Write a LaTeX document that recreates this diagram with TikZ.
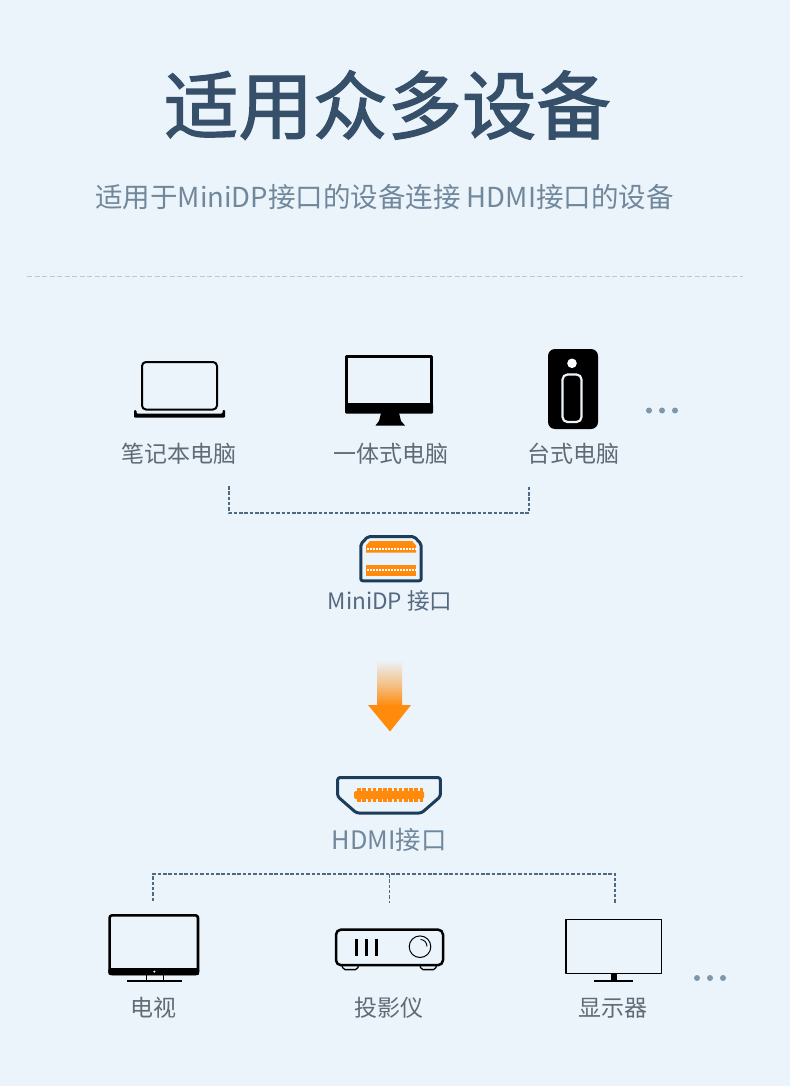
\documentclass[tikz,border=0pt]{standalone}
\usepackage{fontspec}
\setmainfont{Noto Sans CJK SC}
\newfontfamily\titlefont[FakeBold=1.6]{Noto Sans CJK SC}
\definecolor{bgc}{HTML}{EBF3FB}
\definecolor{titlec}{HTML}{37506A}
\definecolor{subc}{HTML}{71889C}
\definecolor{labelc}{HTML}{5F6B75}
\definecolor{navyc}{HTML}{1C3D5A}
\definecolor{orangec}{HTML}{FF8A0C}
\definecolor{dotc}{HTML}{7F97AA}
\definecolor{bracketc}{HTML}{4F6A80}
\definecolor{rulec}{HTML}{BCC6CC}
\tikzset{
  txt/.style={inner sep=0pt,anchor=center},
  devlabel/.style={txt,text=labelc,font=\fontsize{23}{26}\selectfont},
  bracket/.style={draw=bracketc,line width=1.2pt,dash pattern=on 3.5pt off 1.8pt},
  icon/.style={draw=black,line join=round},
  solidblack/.style={fill=black,draw=none},
  portline/.style={draw=navyc,line width=3pt,line join=round},
  ellip/.style={fill=dotc,draw=none},
}
\begin{document}
\begin{tikzpicture}[x=1pt,y=-1pt]
\useasboundingbox (0,0) rectangle (790,1086);
\fill[bgc] (0,0) rectangle (790,1086);
% heading
\node[txt,text=titlec,font=\fontsize{74.5}{80}\titlefont] (title) at (387.5,105) {适用众多设备};
\node[txt,text=subc,font=\fontsize{27.5}{31}\selectfont] (subtitle) at (384.5,197) {适用于MiniDP接口的设备连接 HDMI接口的设备};
\coordinate (ruleL) at (27,276.5);
\coordinate (ruleR) at (743,276.5);
\draw[draw=rulec,line width=1.3pt,dash pattern=on 5pt off 2.5pt] (ruleL) -- (ruleR);
% laptop
\draw[icon,line width=2pt,rounded corners=4pt] (142,409.5) -- (142,362) -- (217,362) -- (217,409.5) -- cycle;
\fill[solidblack,rounded corners=1pt] (134,410) -- (136.5,410) -- (136.5,413.5) -- (222.5,413.5) -- (222.5,410) -- (225,410) -- (225,417.5) -- (134,417.5) -- cycle;
\node[devlabel] (lapL) at (179,454) {笔记本电脑};
% all-in-one
\draw[icon,line width=3pt] (346.5,356.5) rectangle (431.5,404);
\fill[solidblack,rounded corners=1pt] (345,404) rectangle (433,413.5);
\fill[solidblack] (381,413) -- (399,413) -- (401,421) -- (405,425.5) -- (375.5,425.5) -- (379,421) -- cycle;
\node[devlabel] (aioL) at (391,454) {一体式电脑};
% tower
\fill[solidblack,rounded corners=7pt] (548,349) rectangle (598,429);
\fill[white] (572,363.3) circle (4.8pt);
\draw[draw=bgc,line width=2.2pt,rounded corners=5pt] (562.5,374.5) rectangle (581.5,422);
\node[devlabel] (towL) at (573,454) {台式电脑};
\fill[ellip] (649,410.5) circle (3pt) (662,410.5) circle (3pt) (675,410.5) circle (3pt);
% upper bracket
\coordinate (b1a) at (229,486);
\coordinate (b1b) at (229,513);
\coordinate (b1c) at (529,513);
\coordinate (b1d) at (529,486);
\draw[bracket] (b1a) -- (b1b) -- (b1c) -- (b1d);
% MiniDP port
\draw[portline,rounded corners=2pt] (360.8,544) -- (368,536.5) -- (414,536.5) -- (421.2,544) -- (421.2,580.8) -- (360.8,580.8) -- cycle;
\fill[orangec] (366,552.5) -- (366,545.5) -- (370,541) -- (412,541) -- (416,545.5) -- (416,552.5) -- cycle;
\fill[orangec] (366,564.5) rectangle (416,576);
\foreach \i in {0,...,16}{
  \fill[white] ({367+\i*3},547.8) rectangle +(1.7,2);
  \fill[white] ({367+\i*3},568.6) rectangle +(1.7,2);
}
\node[txt,text=titlec!85!white,font=\fontsize{22.6}{27}\selectfont] (mdpL) at (390,601) {MiniDP 接口};
% arrow
\shade[top color=bgc,bottom color=orangec,middle color=orangec!45!bgc] (377,660) rectangle (402,706);
\fill[orangec] (368,705) -- (411,705) -- (390,731.5) -- cycle;
% HDMI port
\draw[portline,rounded corners=2.5pt] (337.6,777.5) -- (440.4,777.5) -- (440.4,796.5) -- (421.5,813) -- (356.5,813) -- (337.6,796.5) -- cycle;
\fill[orangec,rounded corners=2pt] (354,791) rectangle (424,799);
\foreach \i in {0,...,12}{
  \fill[orangec] ({357.2+\i*5.2},788.3) rectangle +(3.6,13.4);
}
\node[txt,text=subc,font=\fontsize{25.4}{30}\selectfont] (hdmiL) at (389,840) {HDMI接口};
% lower brackets
\coordinate (b2a) at (153,901);
\coordinate (b2b) at (153,874);
\coordinate (b2c) at (615,874);
\coordinate (b2d) at (615,903);
\coordinate (b2m) at (389.7,874);
\coordinate (b2n) at (389.7,903);
\draw[bracket] (b2a) -- (b2b) -- (b2c) -- (b2d);
\draw[bracket] (b2m) -- (b2n);
% TV
\draw[icon,line width=2.6pt,rounded corners=2.5pt] (109.6,915.3) rectangle (198,974);
\fill[solidblack,rounded corners=2pt] (108.4,968) rectangle (199.2,975.2);
\fill[white] (154.3,971.6) circle (1.1pt);
\draw[icon,line width=.9pt] (146,975) -- (146,980.5) (163.3,975) -- (163.3,980.5);
\fill[solidblack] (126.7,980) rectangle (182.3,982.2);
\node[devlabel] (tvL) at (153.5,1008) {电视};
% projector
\draw[icon,line width=1.3pt,rounded corners=2pt] (342,965) -- (343,969.6) -- (357.5,969.6) -- (358.5,965);
\draw[icon,line width=1.3pt,rounded corners=2pt] (420,965) -- (421,969.6) -- (435.5,969.6) -- (436.5,965);
\draw[icon,line width=2.5pt,rounded corners=5pt] (336,929.6) rectangle (443,965.2);
\draw[icon,line width=2.5pt] (356.7,939) -- (356.7,955.7) (366.7,939) -- (366.7,955.7) (376.7,939) -- (376.7,955.7);
\draw[icon,line width=1pt] (420,946.7) circle (10.8pt);
\draw[icon,line width=.9pt] (420.5,939.5) .. controls (424,939.5) and (427,942.5) .. (427,946.5);
\node[devlabel] (prjL) at (389,1008) {投影仪};
% monitor
\draw[icon,line width=1.2pt] (566,919.5) rectangle (661.5,973.3);
\fill[solidblack] (610.7,973.5) rectangle (617.3,980.5);
\fill[solidblack] (594,980) rectangle (633.3,982.2);
\node[devlabel] (monL) at (613,1008) {显示器};
\fill[ellip] (697,978) circle (3pt) (710,978) circle (3pt) (723,978) circle (3pt);
\end{tikzpicture}
\end{document}
